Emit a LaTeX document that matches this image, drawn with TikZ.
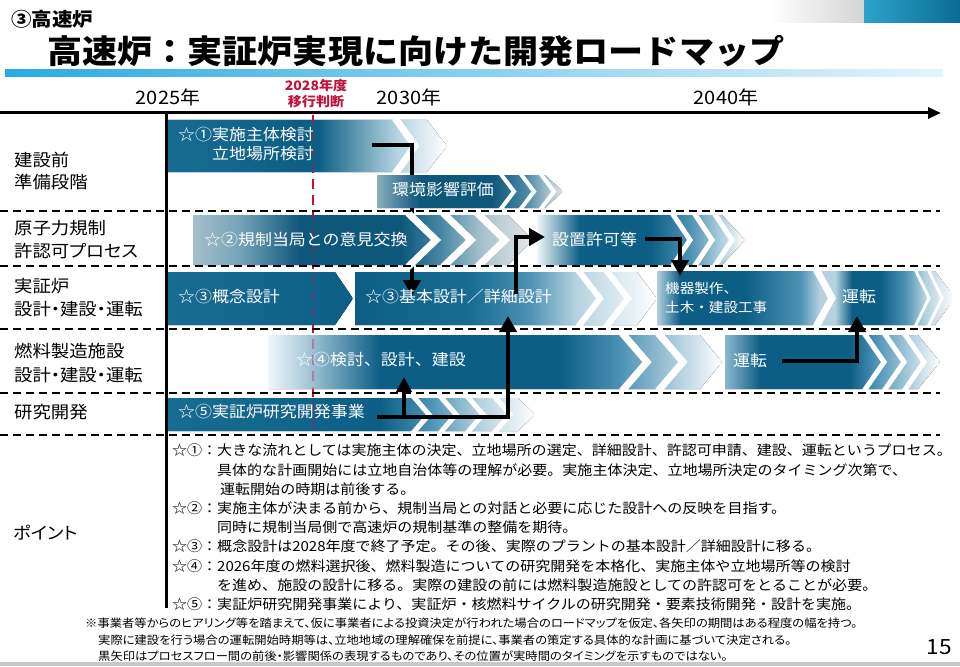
\documentclass[tikz,border=0pt]{standalone}
\usepackage{fontspec}
\usetikzlibrary{arrows.meta}
\newfontfamily\jp[FakeStretch=1.08]{Noto Sans CJK JP}
\newfontfamily\jpp[FakeStretch=1.08,RawFeature=+palt]{Noto Sans CJK JP}
\definecolor{cD}{RGB}{12,94,133}
\definecolor{cD2}{RGB}{24,108,146}
\definecolor{cM}{RGB}{76,146,180}
\definecolor{cL}{RGB}{180,210,224}
\definecolor{cW}{RGB}{240,246,249}
\definecolor{redl}{RGB}{200,16,46}
\definecolor{redt}{RGB}{192,18,60}
\definecolor{gry}{RGB}{212,212,212}
\definecolor{gry2}{RGB}{200,200,200}
\definecolor{teal1}{RGB}{43,163,204}
\definecolor{teal2}{RGB}{11,108,145}
\definecolor{blu1}{RGB}{41,171,226}
\definecolor{blu2}{RGB}{228,244,252}
\newcommand\gradbar[4]{%
  \begin{scope}
    \clip #1;
    \foreach \gx/\gc [remember=\gx as \gpx (initially -50), remember=\gc as \gpc (initially white)] in {#4}{%
      \fill[left color=\gpc,right color=\gc] (\gpx,#2) rectangle (\gx,#3);
    }
  \end{scope}}
\newcommand\wstripe[5]{\draw[white,line width=#5pt,line join=miter] (#1,#2) -- ({#1+#4},{(#2+#3)/2}) -- (#1,#3);}
\tikzset{
  flow/.style={line width=4.5pt,-{Triangle[width=17pt,length=16pt]}},
  flowb/.style={line width=4.5pt,-{Triangle[width=15pt,length=15pt]}},
  rowsep/.style={line width=1.6pt,dash pattern=on 8pt off 5pt},
  hd/.style={font=\jp\bfseries\fontsize{19}{21}\selectfont,inner sep=0,anchor=west},
  ttl/.style={font=\jp\bfseries\fontsize{32.5}{35}\selectfont,inner sep=0,anchor=west},
  yr/.style={font=\jp\fontsize{18.5}{20}\selectfont,inner sep=0},
  rd/.style={font=\jp\bfseries\fontsize{13}{14}\selectfont,text=redt,inner sep=0},
  lbl/.style={font=\jpp\fontsize{17}{19}\selectfont,inner sep=0,anchor=west},
  bt/.style={font=\jp\fontsize{15.7}{18}\selectfont,text=white,inner sep=0,anchor=west},
  bts/.style={font=\jp\fontsize{13.5}{15}\selectfont,text=white,inner sep=0,anchor=west},
  pts/.style={font=\jp\fontsize{13.9}{16}\selectfont,inner sep=0,anchor=west},
  fn/.style={font=\jpp\fontsize{11.4}{13}\selectfont,inner sep=0,anchor=west},
  pg/.style={font=\jp\fontsize{21}{22}\selectfont,inner sep=0,anchor=east}
}
\begin{document}
\begin{tikzpicture}[x=1pt,y=-1pt]
\useasboundingbox (0,0) rectangle (960,666);
\fill[white] (0,0) rectangle (960,666);
% header decoration
\fill[left color=white,right color=gry] (770,0) rectangle (864,23);
\fill[left color=teal1,right color=teal2] (864,0) rectangle (960,23);
\fill[left color=blu1,right color=blu2] (5,70) rectangle (943,77);
\fill[gry2] (0,662) rectangle (960,666);
\node[hd] (h1) at (11,19) {③高速炉};
\node[ttl] (title) at (47,51) {高速炉：実証炉実現に向けた開発ロードマップ};
% years
\node[yr] (y25) at (168,97) {2025年};
\node[yr] (y30) at (409,97) {2030年};
\node[yr] (y40) at (726,97) {2040年};
\node[rd] (y28a) at (316,86) {2028年度};
\node[rd] (y28b) at (316,102) {移行判断};
% red line behind
\coordinate (rtop) at (313,115);
\coordinate (rbot) at (313,435);
\draw[redl,line width=2.5pt,dash pattern=on 10pt off 6pt] (rtop) -- (rbot);
% bars (first layer)
\gradbar{(167,120)--(427,120)--(447,146)--(427,172)--(167,172)--cycle}{118}{174}{167/cD2,300/cD,318/cD,396/cL,447/white}
\wstripe{395}{118}{174}{20}{7}
\gradbar{(167,272)--(335,272)--(353,298.5)--(335,325)--(167,325)--cycle}{270}{327}{167/cD2,353/cD}
\gradbar{(355,272)--(637,272)--(657,298.5)--(637,325)--(355,325)--cycle}{270}{327}{355/cD,470/cD2,530/cM,575/cL,657/white}
\wstripe{578}{270}{327}{22}{6}\wstripe{606}{270}{327}{22}{6}
% arrow 1 (passes under the rows 1b and 2 bars)
\coordinate (a1s) at (372,145); \coordinate (a1e) at (412,296);
\draw[flow] (a1s) -| (a1e);
% bars (second layer, slightly transparent)
\begin{scope}[fill opacity=0.9]
\gradbar{(377,175)--(545,175)--(563,191.5)--(545,208)--(377,208)--cycle}{173}{210}{377/cL!70!cM,420/cD,490/cD,525/cM,563/white}
\gradbar{(193,215)--(508,215)--(533,240)--(508,265)--(193,265)--cycle}{213}{267}{193/cL,240/cL!50!cM,300/cD,400/cD,440/cM,480/cL,533/white}
\end{scope}
\wstripe{500}{173}{210}{14}{4}\wstripe{520}{173}{210}{14}{4}\wstripe{540}{173}{210}{14}{4}
\wstripe{408}{213}{267}{28}{7}\wstripe{443}{213}{267}{28}{7}\wstripe{477}{213}{267}{28}{7}
\gradbar{(537,215)--(722,215)--(745,240)--(722,265)--(537,265)--cycle}{213}{267}{537/cW,580/cD,650/cD,690/cM,745/white}
\wstripe{672}{213}{267}{18}{5}\wstripe{694}{213}{267}{18}{5}\wstripe{714}{213}{267}{18}{5}
\gradbar{(657,271)--(935,271)--(955,298)--(935,325)--(657,325)--cycle}{269}{327}{657/cL,680/cD,745/cD,800/cM,820/cL,835/cL,852/cD,880/cD,905/cM,925/cL,955/white}
\wstripe{816}{269}{327}{16}{7}
\wstripe{915}{269}{327}{14}{3}\wstripe{928}{269}{327}{14}{3}\wstripe{941}{269}{327}{14}{3}
\gradbar{(268,335)--(700,335)--(722,362)--(700,389)--(268,389)--cycle}{333}{391}{268/cW,300/cL,380/cD,560/cD,620/cM,680/cL,722/white}
\wstripe{622}{333}{391}{25}{7}\wstripe{658}{333}{391}{25}{7}
\gradbar{(725,335)--(918,335)--(940,362)--(918,389)--(725,389)--cycle}{333}{391}{725/cL!60!cM,760/cD,850/cD,875/cM,940/white}
\wstripe{864}{333}{391}{20}{5}\wstripe{884}{333}{391}{20}{5}\wstripe{904}{333}{391}{20}{5}
\gradbar{(167,398)--(518,398)--(535,414.5)--(518,431)--(167,431)--cycle}{396}{433}{167/cD2,380/cD,430/cM,480/cL,535/white}
\wstripe{413}{396}{433}{16}{5}\wstripe{440}{396}{433}{16}{5}\wstripe{467}{396}{433}{16}{5}\wstripe{494}{396}{433}{16}{5}
% red line over bars (faint)
\draw[redl,line width=2.5pt,dash pattern=on 10pt off 6pt,opacity=0.35] (rtop) -- (rbot);
% row separators
\foreach \yy in {211,266,329,393,435} \draw[rowsep] (0,\yy) -- (940,\yy);
% axes
\coordinate (ax0) at (0,113);
\coordinate (ax1) at (941,113);
\draw[line width=3pt,-{Triangle[width=11pt,length=13pt]}] (ax0) -- (ax1);
\coordinate (vl0) at (166,112);
\coordinate (vl1) at (166,608);
\draw[line width=3pt] (vl0) -- (vl1);
% bar texts
\node[bt] (t1a) at (178,135) {☆①実施主体検討};
\node[bt] (t1b) at (212,154) {立地場所検討};
\node[bt] (t1c) at (392,190) {環境影響評価};
\node[bt] (t2a) at (204,240) {☆②規制当局との意見交換};
\node[bt] (t2b) at (552,240) {設置許可等};
\node[bt] (t3a) at (178,297) {☆③概念設計};
\node[bt] (t3b) at (365,297) {☆③基本設計／詳細設計};
\node[bts] (t3c) at (665,288) {機器製作、};
\node[bts] (t3d) at (665,307) {土木・建設工事};
\node[bt] (t3e) at (842,297) {運転};
\node[bt] (t4a) at (296,360) {☆④検討、設計、建設};
\node[bt] (t4b) at (733,361) {運転};
\node[bt] (t5) at (178,412) {☆⑤実証炉研究開発事業};
% flow arrows
\coordinate (a2s) at (377,417); \coordinate (a2e) at (508,316);
\draw[flow] (a2s) -| (a2e);
\coordinate (a2b) at (404,417); \coordinate (a2t) at (404,377);
\draw[flowb] (a2b) -- (a2t);
\coordinate (a3s) at (516,294); \coordinate (a3e) at (545,237);
\draw[flow] (a3s) |- (a3e);
\coordinate (a4s) at (645,239); \coordinate (a4e) at (680,276);
\draw[flow] (a4s) -| (a4e);
\coordinate (a5s) at (782,361); \coordinate (a5e) at (857,316);
\draw[flow] (a5s) -| (a5e);
% row labels
\node[lbl] (r1a) at (14,160) {建設前};
\node[lbl] (r1b) at (14,182) {準備段階};
\node[lbl] (r2a) at (14,228) {原子力規制};
\node[lbl] (r2b) at (14,251) {許認可プロセス};
\node[lbl] (r3a) at (14,286) {実証炉};
\node[lbl] (r3b) at (14,309) {設計・建設・運転};
\node[lbl] (r4a) at (14,351) {燃料製造施設};
\node[lbl] (r4b) at (14,375) {設計・建設・運転};
\node[lbl] (r5) at (14,412) {研究開発};
\node[lbl] (pt) at (13,533) {ポイント};
% points
\node[pts] (p1) at (172,450) {☆①：大きな流れとしては実施主体の決定、立地場所の選定、詳細設計、許認可申請、建設、運転というプロセス。};
\node[pts] (p1b) at (217,470) {具体的な計画開始には立地自治体等の理解が必要。実施主体決定、立地場所決定のタイミング次第で、};
\node[pts] (p1c) at (220,489) {運転開始の時期は前後する。};
\node[pts] (p2) at (172,508) {☆②：実施主体が決まる前から、規制当局との対話と必要に応じた設計への反映を目指す。};
\node[pts] (p2b) at (217,527) {同時に規制当局側で高速炉の規制基準の整備を期待。};
\node[pts] (p3) at (172,546) {☆③：概念設計は2028年度で終了予定。その後、実際のプラントの基本設計／詳細設計に移る。};
\node[pts] (p4) at (172,566) {☆④：2026年度の燃料選択後、燃料製造についての研究開発を本格化、実施主体や立地場所等の検討};
\node[pts] (p4b) at (217,585) {を進め、施設の設計に移る。実際の建設の前には燃料製造施設としての許認可をとることが必要。};
\node[pts] (p5) at (172,604) {☆⑤：実証炉研究開発事業により、実証炉・核燃料サイクルの研究開発・要素技術開発・設計を実施。};
% footnotes
\node[fn] (f1) at (85,623) {※事業者等からのヒアリング等を踏まえて、仮に事業者による投資決定が行われた場合のロードマップを仮定、各矢印の期間はある程度の幅を持つ。};
\node[fn] (f2) at (98,640) {実際に建設を行う場合の運転開始時期等は、立地地域の理解確保を前提に、事業者の策定する具体的な計画に基づいて決定される。};
\node[fn] (f3) at (98,656) {黒矢印はプロセスフロー間の前後・影響関係の表現するものであり、その位置が実時間のタイミングを示すものではない。};
\node[pg] (pgn) at (952,647) {15};
\end{tikzpicture}
\end{document}
